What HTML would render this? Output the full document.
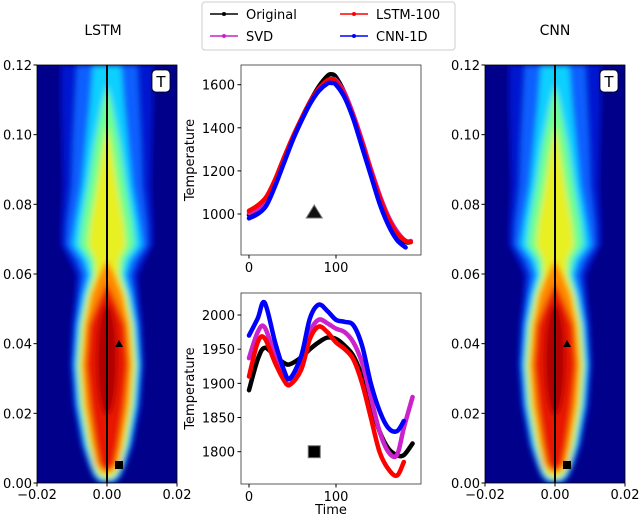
<!DOCTYPE html>
<html><head><meta charset="utf-8"><style>
body{margin:0;background:#fff;}
svg{display:block;font-family:"DejaVu Sans","Liberation Sans",sans-serif;}
</style></head><body>
<svg id="fig" width="640" height="518" viewBox="0 0 640 518" xmlns="http://www.w3.org/2000/svg">
<defs>
<filter id="blur" x="-50%" y="-10%" width="200%" height="120%"><feGaussianBlur stdDeviation="3"/></filter>
<clipPath id="clipL"><rect x="37" y="65" width="140" height="418"/></clipPath>
<clipPath id="clipR"><rect x="485" y="65" width="140" height="418"/></clipPath>
<clipPath id="clipTop"><rect x="241" y="65" width="180" height="190"/></clipPath>
<clipPath id="clipBot"><rect x="241" y="293" width="180" height="191"/></clipPath>
</defs>
<text x="103" y="35" font-size="14" text-anchor="middle">LSTM</text>
<text x="555" y="35" font-size="14" text-anchor="middle">CNN</text>
<g id="legend">
<rect x="202" y="2" width="253" height="48" rx="3" fill="#fff" stroke="#ccc"/>
</g>
<g id="root"></g>
</svg>
<script>
// ---- data ----
const tTop = [0,10,20,30,40,50,60,70,80,90,95,100,110,120,130,140,150,160,170,180,186];
const topOriginal = [995,1020,1060,1150,1250,1350,1440,1520,1590,1640,1648,1635,1560,1450,1320,1190,1070,970,900,870,870];
const topLSTM = [1015,1040,1080,1160,1260,1355,1440,1520,1580,1620,1625,1615,1550,1450,1330,1200,1080,980,910,875,870];
const topSVD = [1005,1025,1060,1150,1250,1350,1440,1515,1580,1615,1625,1620,1560,1460,1340,1210,1090,990,920,875,875];
const topCNN = [980,1000,1040,1130,1235,1340,1430,1510,1570,1605,1608,1600,1540,1440,1310,1180,1050,950,880,845,null];
const tBot = [0,10,18,30,40,47,60,70,80,90,100,110,120,130,140,150,160,170,178,188];
const botOriginal = [1890,1935,1952,1940,1930,1928,1938,1950,1960,1967,1965,1955,1940,1910,1870,1830,1805,1795,1795,1812];
const botLSTM = [1910,1960,1966,1930,1905,1898,1920,1965,1983,1975,1960,1950,1935,1900,1850,1800,1775,1765,1785,null];
const botSVD = [1937,1975,1982,1940,1910,1898,1930,1975,1993,1988,1980,1975,1960,1930,1880,1830,1800,1795,1835,1880];
const botCNN = [1970,1995,2018,1960,1920,1907,1940,1995,2015,2006,1993,1990,1985,1955,1900,1860,1835,1830,1845,null];
const topTicksY = [1000,1200,1400,1600];
const botTicksY = [1800,1850,1900,1950,2000];
const ticksX = [0,100];
const hmTicksY = ["0.00","0.02","0.04","0.06","0.08","0.10","0.12"];
const hmTicksX = ["\u22120.02","0.00","0.02"];
const seriesNames = ["Original","SVD","LSTM-100","CNN-1D"];
const seriesColors = ["#000000","#cc22cc","#ff0000","#0000ff"];

const NS="http://www.w3.org/2000/svg";
const root=document.getElementById('root');
function mk(tag,attrs,parent){const e=document.createElementNS(NS,tag);for(const k in attrs)e.setAttribute(k,attrs[k]);(parent||root).appendChild(e);return e;}

const xT = t => 249 + t*0.87;
const yTop = v => 214 - (v-1000)*0.2155;
const yBot = v => 315 - (v-2000)*0.6835;

function smoothPath(pts){
  let d=`M${pts[0][0]},${pts[0][1]}`;
  for(let i=0;i<pts.length-1;i++){
    const p0=pts[i-1]||pts[i],p1=pts[i],p2=pts[i+1],p3=pts[i+2]||p2;
    const c1=[p1[0]+(p2[0]-p0[0])/6,p1[1]+(p2[1]-p0[1])/6];
    const c2=[p2[0]-(p3[0]-p1[0])/6,p2[1]-(p3[1]-p1[1])/6];
    d+=`C${c1[0]},${c1[1]} ${c2[0]},${c2[1]} ${p2[0]},${p2[1]}`;
  }
  return d;
}

// ---- heatmaps ----
const lv = [
 {c:"#0018d0",p:[[0,46],[40,46],[80,45],[120,44],[160,46],[180,46],[195,38],[210,31],[230,32],[260,35],[300,37],[340,34],[380,26],[400,19],[410,15],[418,9]]},
 {c:"#1060ff",p:[[0,30],[40,32],[80,34],[120,35],[160,40],[180,41],[195,31],[210,25],[230,28],[260,32],[300,34],[340,31],[380,24],[400,17],[410,13],[417,7]]},
 {c:"#10d0ff",p:[[0,14],[40,17],[80,21],[120,25],[160,32],[180,35],[195,24],[210,19],[230,24],[260,29],[300,32],[340,29],[380,22],[400,16],[410,12],[416,6]]},
 {c:"#70ff90",p:[[20,0],[40,5],[80,13],[120,19],[160,26],[180,28],[195,18],[210,15],[230,21],[260,27],[300,30],[340,27],[380,20],[400,14],[410,10],[414,4]]},
 {c:"#e8f020",p:[[60,0],[80,4],[120,10],[160,17],[180,19],[195,12],[210,12],[230,19],[260,25],[300,28],[340,25],[380,18],[400,13],[410,8],[413,3]]},
 {c:"#ff8a00",p:[[195,0],[210,8],[230,16],[260,22],[300,25],[340,22],[380,15],[400,11],[408,4]]},
 {c:"#e81800",p:[[218,0],[240,10],[260,18],[300,21],[340,17],[380,11],[400,7],[405,2]]}
];
function heatmap(x0,clip,name){
  const g=mk('g',{'clip-path':`url(#${clip})`});
  
  
  mk('rect',{x:x0,y:65,width:140,height:418,fill:'#00008a'},g);
  const bg=mk('g',{filter:'url(#blur)'},g);
  const cx=x0+70;
  lv.forEach(l=>{
    const left=l.p.map(q=>[cx-q[1],65+q[0]]);
    const right=l.p.slice().reverse().map(q=>[cx+q[1],65+q[0]]);
    const pts=left.concat(right);
    const path=mk('path',{d:'M'+pts.map(p=>p.join(',')).join('L')+'Z',fill:l.c},bg);
    
    
  });
  mk('ellipse',{cx:cx,cy:65+295,rx:10,ry:55,fill:'#b00000'},bg);
  mk('line',{x1:cx,y1:65,x2:cx,y2:483,stroke:'#000','stroke-width':2},g);
  mk('path',{d:`M${cx+12},${65+275}l4,7h-8z`,fill:'#000'},g);
  mk('rect',{x:cx+8,y:65+396,width:8,height:8,fill:'#000'},g);
  mk('rect',{x:x0,y:65,width:140,height:418,fill:'none',stroke:'#000','stroke-width':0.8});
  const tb=mk('rect',{x:x0+115,y:70,width:18,height:22,rx:4,fill:'#fff',stroke:'#000','stroke-width':0.8});
  
  
  mk('text',{x:x0+124,y:87,'font-size':15,'text-anchor':'middle'}).textContent='T';
  hmTicksY.forEach((s,i)=>{
    const y=483-i*69.67;
    mk('line',{x1:x0-3.5,y1:y,x2:x0,y2:y,stroke:'#000'});
    const t=mk('text',{x:x0-5,y:y+5,'font-size':13,'text-anchor':'end'});t.textContent=s;
    
    
  });
  hmTicksX.forEach((s,i)=>{
    const x=x0+i*70;
    mk('line',{x1:x,y1:483,x2:x,y2:486.5,stroke:'#000'});
    const t=mk('text',{x:x,y:499,'font-size':13,'text-anchor':'middle'});t.textContent=s;
    
    
  });
}
heatmap(37,'clipL','lstm-heatmap');
heatmap(485,'clipR','cnn-heatmap');

// ---- line plots ----
function linePlot(top,h,clip,yf,ticks,tArr,series,marker,name){
  const box=mk('rect',{x:241,y:top,width:180,height:h,fill:'#fff',stroke:'#333','stroke-width':0.8});
  
  
  const g=mk('g',{'clip-path':`url(#${clip})`});
  series.forEach((s,si)=>{
    const pts=[];
    s.forEach((v,i)=>{if(v!==null)pts.push([xT(tArr[i]),yf(v)]);});
    const p=mk('path',{d:smoothPath(pts),fill:'none',stroke:seriesColors[si],'stroke-width':4.5,'stroke-linecap':'round'},g);
    
    
  });
  if(marker==='tri'){mk('path',{d:`M${xT(75)},${yf(1000)-9}l8,13h-16z`,fill:'#111',stroke:'#777','stroke-width':1});}
  else{mk('rect',{x:xT(75)-6,y:yf(1800)-6,width:12,height:12,fill:'#000',stroke:'#777','stroke-width':1});}
  ticks.forEach(v=>{
    const y=yf(v);
    mk('line',{x1:237.5,y1:y,x2:241,y2:y,stroke:'#000'});
    const t=mk('text',{x:235,y:y+5,'font-size':13,'text-anchor':'end'});t.textContent=v;
    
    
  });
  ticksX.forEach(v=>{
    const x=xT(v);
    mk('line',{x1:x,y1:top+h,x2:x,y2:top+h+3.5,stroke:'#000'});
    const t=mk('text',{x:x,y:top+h+17,'font-size':13,'text-anchor':'middle'});t.textContent=v;
    
    
  });
  const yl=mk('text',{x:0,y:0,'font-size':13,'text-anchor':'middle',transform:`translate(194,${top+h/2}) rotate(-90)`});
  yl.textContent='Temperature';
  
  
}
linePlot(65,190,'clipTop',yTop,topTicksY,tTop,[topOriginal,topSVD,topLSTM,topCNN],'tri','top-temperature-plot');
linePlot(293,191,'clipBot',yBot,botTicksY,tBot,[botOriginal,botSVD,botLSTM,botCNN],'sq','bottom-temperature-plot');
const xl=mk('text',{x:331,y:514,'font-size':13,'text-anchor':'middle'});xl.textContent='Time';



const lg=document.getElementById('legend');
const lpos=[[210,14],[210,36],[340,14],[340,36]];
seriesNames.forEach((n,i)=>{
  const [x,y]=lpos[i];
  const e=mk('g',{},lg);
  
  
  mk('line',{x1:x,y1:y,x2:x+28,y2:y,stroke:seriesColors[i],'stroke-width':1.5},e);
  mk('circle',{cx:x+14,cy:y,r:2,fill:seriesColors[i]},e);
  const t=mk('text',{x:x+36,y:y+5,'font-size':13},e);t.textContent=n;
});
</script>
</body></html>
